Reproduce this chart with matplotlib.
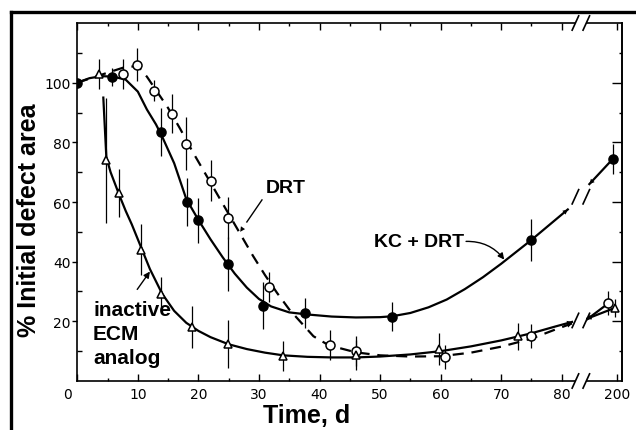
"""Defect area vs time for KC + DRT, DRT and inactive ECM analog (broken x axis)."""

import matplotlib

matplotlib.use("Agg")
import matplotlib.pyplot as plt
import matplotlib.transforms as mtransforms
import numpy as np
from matplotlib.lines import Line2D
from matplotlib.patches import Rectangle

# x axis is linear up to the break, then squeezed so day 200 fits at the edge
BREAK = 82.0
TAIL = 0.061

# KC + DRT (filled circles)
kc_day = [0, 5.7, 13.8, 18.1, 20, 24.9, 30.7, 37.6, 52, 75, 188]
kc_pct = [100, 102, 83.4, 60, 53.8, 39.2, 25.3, 22.9, 21.6, 47.3, 74.5]
kc_err = [0, 3, 8, 8, 7.5, 9, 8, 5, 5, 7, 5]
kc_fit_day = [0, 2, 4, 6, 8, 10, 11.5, 13, 14, 16, 18, 20, 22, 24, 26, 28, 30, 32, 35, 38,
              42, 46, 50, 52, 55, 58, 61, 64, 67, 70, 75, 78, 81]
kc_fit_pct = [100, 101.5, 102.2, 102, 101, 97, 91, 86, 82, 73, 61, 54, 47.5, 41.5, 36, 31.3,
              27.5, 25, 23, 22.3, 21.6, 21.3, 21.4, 21.7, 22.8, 24.7, 27.3, 30.8, 34.8, 39.3,
              47.3, 52.4, 57.5]
kc_tail_day = [124, 188]
kc_tail_pct = [66, 74.5]

# DRT (open circles, dashed)
drt_day = [7.5, 9.8, 12.7, 15.7, 17.9, 22, 24.9, 31.7, 41.7, 46, 60.8, 75, 175]
drt_pct = [103, 106, 97.3, 89.6, 79.6, 67.2, 54.6, 31.6, 12.1, 10, 8, 15, 26]
drt_err = [5, 5.5, 3.5, 6.5, 9, 7, 7, 5, 5, 5, 4, 4, 4]
drt_fit_day = [0, 3, 6, 8, 10, 11.5, 13, 15, 17, 19, 21, 23, 25, 27, 29, 31, 33, 35, 37, 39,
               41, 43, 46, 50, 55, 60, 65, 70, 75, 79, 81.7]
drt_fit_pct = [100, 102, 104, 105.3, 105.5, 102, 97.5, 91.5, 84.5, 77, 70, 63, 56, 49, 42,
               35.5, 29.5, 24, 19.5, 15, 12.6, 11.2, 9.6, 8.6, 8.2, 8.3, 9.5, 11.5, 14.2,
               17.3, 19.3]
drt_tail_day = [116, 175]
drt_tail_pct = [20.5, 26]

# inactive ECM analog (open triangles)
ecm_day = [3.6, 4.8, 6.9, 10.6, 13.9, 18.9, 24.9, 34, 46, 59.8, 72.7, 193]
ecm_pct = [103, 74, 63, 44, 29.3, 18.1, 12.3, 8.4, 8.8, 10.7, 15, 24.5]
ecm_err = [5, 21, 8, 8.5, 5.5, 7, 8, 5, 5, 5.5, 4.5, 3]
ecm_fit_day = [4.3, 4.8, 5.5, 7, 8, 9, 10, 11, 12, 14, 16, 18, 20, 22, 25, 28, 31, 34, 38,
               42, 46, 50, 55, 60, 65, 70, 75, 79, 81.7]
ecm_fit_pct = [95, 75, 70, 62, 57, 52.5, 47.5, 42.5, 37.5, 29.3, 23.5, 19.5, 16.8, 14.7,
               12.3, 10.7, 9.5, 8.6, 8.1, 7.9, 7.9, 8.2, 8.9, 10, 11.6, 13.6, 16, 18.3, 19.8]
ecm_tail_day = [116, 193]
ecm_tail_pct = [20.8, 24.5]

x_ticks = [0, 10, 20, 30, 40, 50, 60, 70, 80, 200]
x_minor = [5, 15, 25, 35, 45, 55, 65, 75]
y_ticks = [20, 40, 60, 80, 100]
y_minor = [10, 30, 50, 70, 90, 110]

BOLD = dict(family="Liberation Sans", fontweight="bold")


def fwd(x):
    x = np.asarray(x, dtype=float)
    return np.where(x <= BREAK, x, BREAK + (x - BREAK) * TAIL)


def inv(x):
    x = np.asarray(x, dtype=float)
    return np.where(x <= BREAK, x, BREAK + (x - BREAK) / TAIL)


def head(ax, tip, tail):
    ax.annotate("", xy=tip, xytext=tail,
                arrowprops=dict(arrowstyle="-|>", color="black", lw=0,
                                mutation_scale=9, shrinkA=0, shrinkB=0))


fig = plt.figure(figsize=(6.36, 4.31), dpi=100)
ax = fig.add_axes([0.1215, 0.1137, 0.856, 0.8306])
ax.set_xscale("function", functions=(fwd, inv))
ax.set_xlim(0, 211.5)
ax.set_ylim(0, 120)

# fitted curves, each broken at the axis break
for fday, fpct, tday, tpct, ls in (
    (kc_fit_day, kc_fit_pct, kc_tail_day, kc_tail_pct, "-"),
    (drt_fit_day, drt_fit_pct, drt_tail_day, drt_tail_pct, (0, (5, 3.5))),
    (ecm_fit_day, ecm_fit_pct, ecm_tail_day, ecm_tail_pct, "-"),
):
    ax.plot(fday, fpct, color="black", lw=1.6, ls=ls)
    ax.plot(tday, tpct, color="black", lw=1.6)
    head(ax, (fday[-1], fpct[-1]), (fday[-3], fpct[-3]))
    head(ax, (tday[0], tpct[0]), (tday[1], tpct[1]))

for day, pct, err, mk, fc, ms in (
    (kc_day, kc_pct, kc_err, "o", "black", 6.5),
    (drt_day, drt_pct, drt_err, "o", "white", 6.5),
    (ecm_day, ecm_pct, ecm_err, "^", "white", 5.5),
):
    ax.errorbar(day, pct, yerr=err, fmt="none", ecolor="black", elinewidth=0.9)
    ax.plot(day, pct, ls="none", marker=mk, mfc=fc, mec="black", ms=ms, mew=1.1, zorder=4)

# labels with arrows
ax.text(34.4, 64.7, "DRT", fontsize=14, ha="center", va="center", **BOLD)
head(ax, (26.9, 50), (30.5, 60.7))
ax.plot([30.5, 28.0], [60.7, 53.3], color="black", lw=1.0)
ax.text(56.5, 46.8, "KC + DRT", fontsize=14, ha="center", va="center", **BOLD)
ax.annotate("", xy=(70.5, 40.7), xytext=(64.2, 46.8),
            arrowprops=dict(arrowstyle="-|>", color="black", lw=1.0, mutation_scale=9,
                            shrinkA=0, shrinkB=0, connectionstyle="arc3,rad=-0.25"))
ax.text(2.6, 16, "inactive\nECM\nanalog", fontsize=15, ha="left", va="center",
        linespacing=1.35, **BOLD)
ax.annotate("", xy=(12.0, 36.7), xytext=(9.9, 30.7),
            arrowprops=dict(arrowstyle="-|>", color="black", lw=1.0, mutation_scale=9,
                            shrinkA=0, shrinkB=0))

# ticks
ax.set_xticks(x_ticks)
ax.set_xticklabels([str(t) for t in x_ticks])
ax.set_xticks(x_minor, minor=True)
ax.set_yticks(y_ticks)
ax.set_yticks(y_minor, minor=True)
ax.tick_params(axis="x", which="both", direction="in", top=True, labelsize=10, pad=4)
ax.tick_params(axis="x", which="major", length=5, width=1.0)
ax.tick_params(axis="x", which="minor", length=2.5, width=1.0)
ax.tick_params(axis="y", which="major", direction="out", length=3.5, width=1.0,
               labelsize=10, pad=1.5)
ax.tick_params(axis="y", which="minor", direction="in", length=3.5, width=1.0)
ax.xaxis.get_major_ticks()[0].label1.set_transform(
    ax.xaxis.get_major_ticks()[0].label1.get_transform()
    + mtransforms.ScaledTranslation(-0.10, 0, fig.dpi_scale_trans))
for s in ax.spines.values():
    s.set_linewidth(1.2)

axr = ax.twinx()
axr.set_ylim(0, 120)
axr.set_yticks(y_ticks)
axr.set_yticks(y_minor, minor=True)
axr.tick_params(axis="y", which="major", direction="in", length=7, width=1.0, labelright=False)
axr.tick_params(axis="y", which="minor", direction="in", length=2.5, width=1.0)
for side in ("top", "bottom", "left"):
    axr.spines[side].set_visible(False)
axr.spines["right"].set_linewidth(1.2)

# axis break: white gap plus // marks on spines and curves
x1, x2 = 0.915, 0.935
ax.add_patch(Rectangle((x1, -0.02), x2 - x1, 1.04, transform=ax.transAxes,
                       fc="white", ec="none", zorder=5, clip_on=False))
ylim = ax.get_ylim()[1]
marks_y = [0.0, 1.0,
           (kc_fit_pct[-1] + kc_tail_pct[0]) / 2 / ylim,
           (ecm_fit_pct[-1] + ecm_tail_pct[0]) / 2 / ylim]
for yc in marks_y:
    for xc in (x1, x2):
        ax.add_line(Line2D([xc - 0.006, xc + 0.006], [yc - 0.02, yc + 0.02],
                           transform=ax.transAxes, color="black", lw=1.2,
                           zorder=6, clip_on=False))

fig.text(0.4826, (431 - 423) / 431, "Time, d", fontsize=18, ha="center", va="baseline", **BOLD)
fig.text(0.046, 0.49, "% Initial defect area", fontsize=18, rotation=90,
         ha="center", va="center", **BOLD)

# outer frame of the original figure
fig.add_artist(Line2D([0.0173, 0.0173], [0, 0.969], color="black", lw=2.4))
fig.add_artist(Line2D([0.0173, 1.0], [0.969, 0.969], color="black", lw=2.4))

fig.savefig("out.png", dpi=100, facecolor="white")
